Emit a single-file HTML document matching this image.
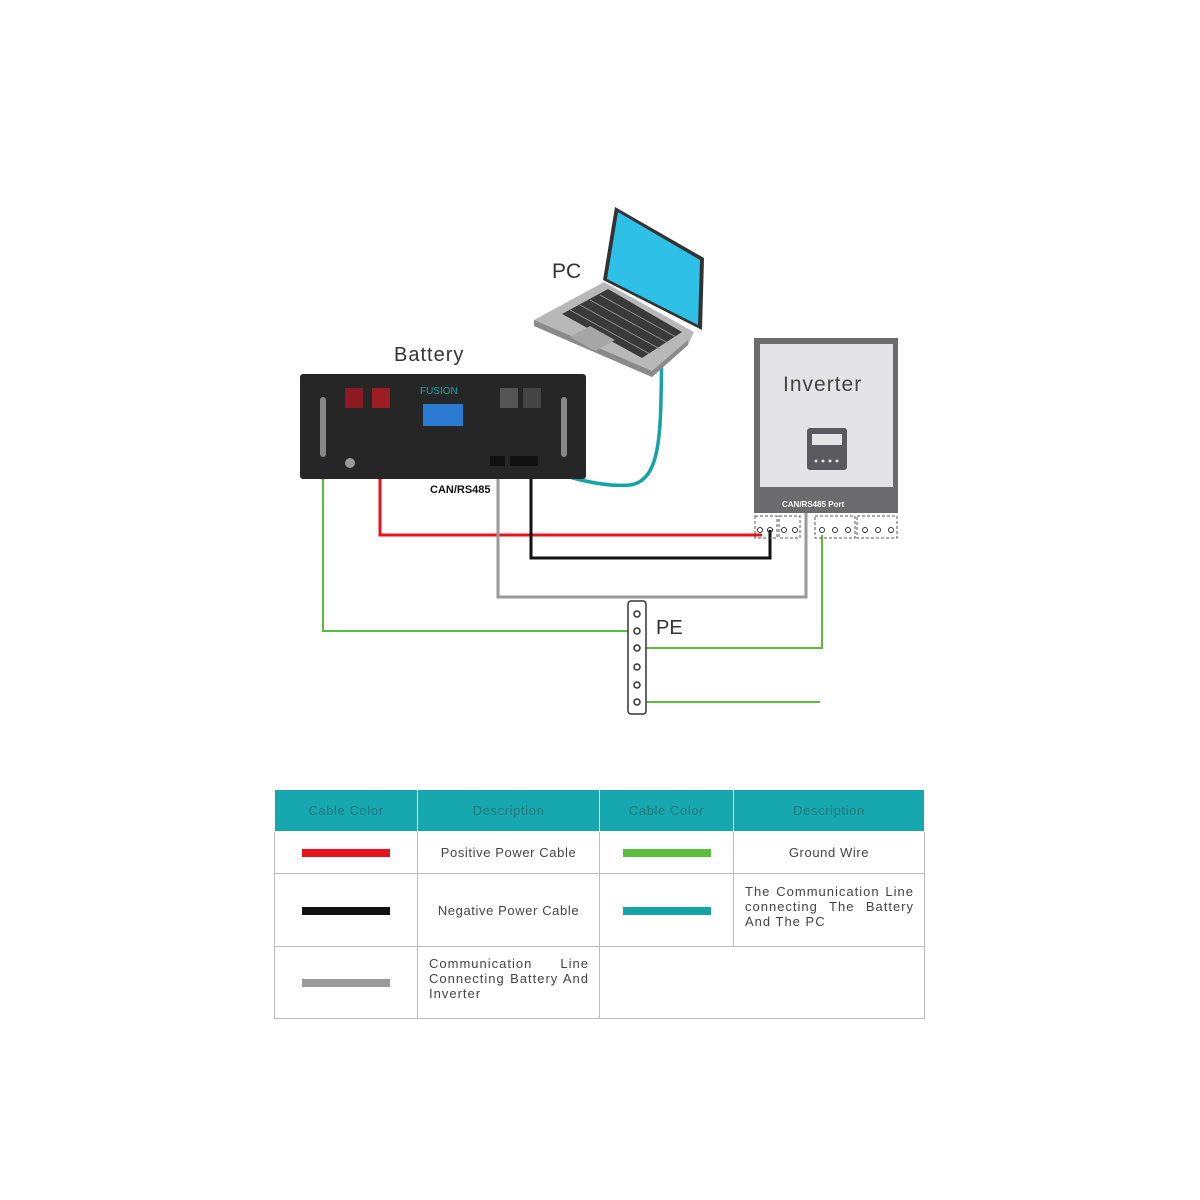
<!DOCTYPE html>
<html><head><meta charset="utf-8"><style>
body{margin:0;background:#fff;width:1200px;height:1200px;overflow:hidden;font-family:"Liberation Sans",sans-serif}
svg{position:absolute;left:0;top:0}
table{position:absolute;left:274px;top:790px;border-collapse:collapse;table-layout:fixed;width:650px;font-size:13px;color:#444;letter-spacing:0.6px}
td{border:1px solid #bbb;text-align:center;padding:0}
th{background:#16a8ae;color:#27777b;font-weight:normal;border:1px solid #fff;border-top:none;height:41px;font-size:13px;letter-spacing:0.6px;padding:0}
.txt{text-align:justify;padding:0 10px 8px 11px;line-height:15px;letter-spacing:1px}
.bar{display:inline-block;width:88px;height:8px}
</style></head><body>
<svg width="1200" height="1200" viewBox="0 0 1200 1200">
<g fill="none" stroke-width="3">
<polyline points="380,395 380,535 762,535" stroke="#e8141b"/>
<polyline points="531,395 531,558 770,558 770,530" stroke="#111"/>
<polyline points="498,470 498,597 806,597 806,512" stroke="#9a9a9a"/>
<polyline points="323,478 323,631 633,631" stroke="#5bbd3c" stroke-width="2"/>
<polyline points="822,535 822,648 641,648" stroke="#5bbd3c" stroke-width="2"/>
<polyline points="641,702 820,702" stroke="#5bbd3c" stroke-width="2"/>
<path d="M520,462 C560,475 600,488 630,485 C665,480 660,420 662,342" stroke="#16a3a8" stroke-width="3.5"/>
</g>
<!-- laptop -->
<polygon points="534,320 604,282 694,332 688,345 652,377 534,326" fill="#b8b8b8"/>
<polygon points="534,320 652,371 688,340 688,345 652,377 534,326" fill="#8a8a8a"/>
<polygon points="562,314 608,289 682,332 642,358" fill="#3a3a3a"/>
<g stroke="#999" stroke-width="0.8">
<line x1="570" y1="310" x2="650" y2="354"/><line x1="580" y1="305" x2="660" y2="349"/><line x1="590" y1="300" x2="668" y2="343"/><line x1="600" y1="295" x2="676" y2="337"/>
</g>
<polygon points="570,337 590,326 615,340 595,351" fill="#a6a6a6"/>
<polygon points="615,207 704,258 702,330 603,280" fill="#333"/>
<polygon points="618,212 700,260 698,325 607,279" fill="#2ec0e6"/>
<text x="552" y="278" font-size="21" fill="#333">PC</text>
<!-- battery -->
<text x="394" y="361" font-size="20" fill="#333" letter-spacing="1">Battery</text>
<rect x="300" y="374" width="286" height="105" rx="3" fill="#262626"/>
<rect x="320" y="397" width="6" height="60" rx="3" fill="#888"/>
<rect x="561" y="397" width="6" height="60" rx="3" fill="#888"/>
<rect x="345" y="388" width="18" height="20" fill="#8c1a22"/>
<rect x="372" y="388" width="18" height="20" fill="#9c1e24"/>
<rect x="500" y="388" width="18" height="20" fill="#555"/>
<rect x="523" y="388" width="18" height="20" fill="#444"/>
<text x="420" y="394" font-size="10" fill="#1aa5ad">FUSION</text>
<rect x="423" y="404" width="40" height="22" fill="#2c7bd3"/>
<circle cx="350" cy="463" r="5" fill="#999"/>
<rect x="490" y="456" width="15" height="10" fill="#111"/><rect x="510" y="456" width="28" height="10" fill="#111"/>
<text x="430" y="493" font-size="11" font-weight="bold" fill="#111">CAN/RS485</text>
<!-- inverter -->
<rect x="754" y="338" width="144" height="175" fill="#6b6b6e"/>
<rect x="760" y="344" width="133" height="143" fill="#e4e4e6"/>
<text x="783" y="391" font-size="21" fill="#444" letter-spacing="1">Inverter</text>
<rect x="807" y="428" width="40" height="42" rx="3" fill="#5a5a5e"/>
<rect x="812" y="434" width="30" height="11" fill="#e4e4e6"/>
<g fill="#ddd"><circle cx="816" cy="461" r="1.5"/><circle cx="823" cy="461" r="1.5"/><circle cx="830" cy="461" r="1.5"/><circle cx="837" cy="461" r="1.5"/></g>
<text x="782" y="507" font-size="8" font-weight="bold" fill="#fff">CAN/RS485 Port</text>
<g fill="none" stroke="#555" stroke-dasharray="3,2" stroke-width="1">
<rect x="755" y="516" width="22" height="22"/><rect x="779" y="516" width="21" height="22"/>
<rect x="815" y="516" width="40" height="22"/><rect x="857" y="516" width="40" height="22"/>
</g>
<g fill="none" stroke="#333" stroke-width="1">
<circle cx="760" cy="530" r="2.5"/><circle cx="770" cy="530" r="2.5"/><circle cx="784" cy="530" r="2.5"/><circle cx="795" cy="530" r="2.5"/>
<circle cx="822" cy="530" r="2.5"/><circle cx="835" cy="530" r="2.5"/><circle cx="848" cy="530" r="2.5"/>
<circle cx="865" cy="530" r="2.5"/><circle cx="878" cy="530" r="2.5"/><circle cx="891" cy="530" r="2.5"/>
</g>
<rect x="628" y="601" width="18" height="113" rx="3" fill="#fff" stroke="#333" stroke-width="1.5"/>
<g fill="#fff" stroke="#333" stroke-width="1.5">
<circle cx="637" cy="614" r="3"/><circle cx="637" cy="631" r="3"/><circle cx="637" cy="648" r="3"/>
<circle cx="637" cy="667" r="3"/><circle cx="637" cy="685" r="3"/><circle cx="637" cy="702" r="3"/></g>
<text x="656" y="634" font-size="20" fill="#333">PE</text>
</svg>
<table>
<colgroup><col style="width:143px"><col style="width:182px"><col style="width:134px"><col style="width:191px"></colgroup>
<tr><th>Cable Color</th><th>Description</th><th>Cable Color</th><th>Description</th></tr>
<tr style="height:42px"><td><span class="bar" style="background:#e8141b"></span></td><td>Positive Power Cable</td><td><span class="bar" style="background:#5bbd3c"></span></td><td>Ground Wire</td></tr>
<tr style="height:73px"><td><span class="bar" style="background:#111"></span></td><td>Negative Power Cable</td><td><span class="bar" style="background:#16a3a8"></span></td><td class="txt">The Communication Line connecting The Battery And The PC</td></tr>
<tr style="height:72px"><td><span class="bar" style="background:#9a9a9a"></span></td><td class="txt">Communication Line Connecting Battery And Inverter</td><td colspan="2"></td></tr>
</table>
</body></html>
